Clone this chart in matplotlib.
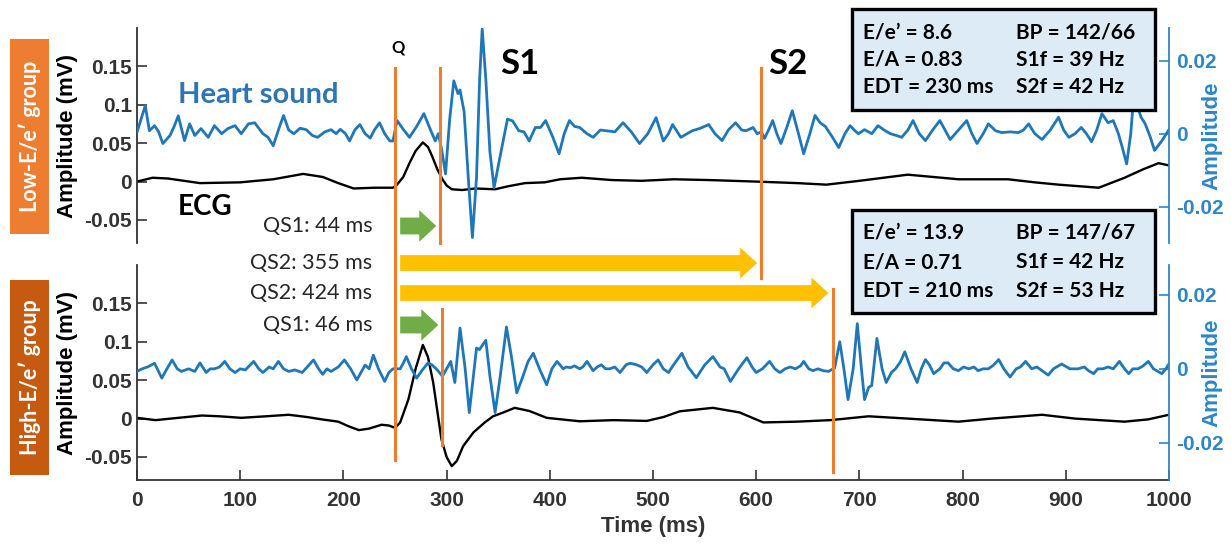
import matplotlib
matplotlib.use("Agg")
import matplotlib.pyplot as plt
from matplotlib.patches import Rectangle, FancyArrow
from matplotlib.lines import Line2D
from matplotlib.transforms import blended_transform_factory

# ---- data ----
# low-E/e' group: heart sound (right axis) and ECG (mV, left axis)
t_hs_low = [0, 4, 8, 12, 17, 21, 25, 32, 36, 40, 46, 51, 56, 62, 69, 75, 82, 88, 95, 101,
            108, 114, 122, 127, 132, 137, 142, 147, 152, 158, 164, 170, 175, 182, 188, 193,
            197, 202, 206, 211, 216, 221, 226, 230, 235, 240, 245, 248, 252, 258, 264, 271,
            278, 283, 289, 292, 295, 299, 303, 307, 311, 313, 317, 321, 325, 329, 332, 334.5,
            338, 342, 346, 352, 359, 364, 370, 375, 380, 386, 391, 396, 403, 409, 414, 419,
            424, 429, 436, 442, 449, 455, 463, 471, 479, 487, 495, 503, 510, 515, 519, 527,
            533, 538, 546, 554, 560, 567, 573, 580, 586, 590, 597, 601, 605, 608, 612, 616,
            620, 624, 630, 635, 641, 646, 652, 657, 662, 667, 674, 680, 686, 691, 695, 699,
            705, 712, 718, 724, 730, 736, 741, 747, 752, 758, 764, 771, 778, 783, 788, 796,
            804, 809, 814, 820, 825, 832, 838, 846, 854, 859, 864, 870, 877, 885, 893, 898,
            903, 909, 915, 920, 925, 930, 935, 941, 946, 951, 955, 959, 963, 966, 970, 973,
            977, 982, 986, 993, 1000]
hs_low = [0.0004, 0.004, 0.0077, 0.0008, 0.0022, 0.0005, -0.0027, -0.0005, 0.002, 0.0049,
          -0.0019, 0.0027, -0.0005, 0.0014, -0.001, 0.0022, 0.0, 0.0014, 0.0022, 0.0,
          0.0027, 0.003, 0.0, -0.001, -0.0033, 0.001, 0.005, 0.001, 0.0, 0.0015, 0.0011,
          -0.0005, -0.001, 0.0005, 0.0011, 0.0, 0.0012, 0.0, -0.002, 0.001, 0.0025, 0.0,
          -0.0012, 0.001, 0.003, 0.0, -0.002, -0.002, 0.0036, 0.0012, -0.001, 0.002,
          0.0055, 0.002, -0.002, 0.0, -0.004, -0.011, 0.004, 0.0145, 0.011, 0.012, 0.006,
          -0.012, -0.0285, -0.012, 0.015, 0.0288, 0.015, -0.005, -0.0148, -0.006, 0.004,
          0.0035, 0.0008, 0.0005, -0.002, 0.0017, 0.0017, 0.0036, -0.001, -0.0055, 0.0,
          0.0036, 0.002, 0.0017, 0.0, -0.001, 0.001, 0.0008, 0.0005, 0.003, 0.0005,
          -0.0027, 0.0, 0.0044, -0.002, 0.0, 0.0025, -0.001, 0.0, 0.0008, 0.0015, 0.0025,
          0.0, -0.0019, 0.001, 0.003, 0.001, 0.0008, 0.0017, 0.0, 0.0005, -0.0013, 0.001,
          0.0036, 0.0, -0.0027, 0.002, 0.0063, 0.0, -0.0055, 0.0, 0.005, 0.003, 0.002,
          -0.001, -0.0038, 0.0, 0.0022, 0.001, 0.0, 0.0011, 0.0, 0.0022, 0.001, 0.0,
          -0.0005, -0.001, 0.001, 0.0036, 0.0, -0.0019, 0.001, 0.0036, 0.001, -0.0016,
          0.001, 0.0036, 0.0, -0.0027, 0.0, 0.0027, 0.0008, 0.0003, 0.0005, 0.0003, 0.001,
          0.0027, 0.0, -0.0016, 0.001, 0.0045, 0.001, -0.001, 0.0, 0.0017, 0.0, -0.0022,
          0.001, 0.0055, 0.003, 0.0036, 0.0, -0.004, -0.0083, 0.0, 0.011, 0.007, 0.0045,
          0.0027, -0.001, -0.0046, -0.002, 0.0011]
t_ecg_low = [0, 15, 30, 61, 100, 132, 161, 180, 195, 210, 230, 248, 252, 258, 264, 270, 277,
             282, 286, 291, 296, 300, 305, 315, 328, 347, 360, 376, 395, 410, 431, 460, 489,
             520, 554, 600, 640, 668, 700, 747, 796, 844, 870, 893, 932, 957, 975, 990, 1000]
ecg_low = [0.0, 0.005, 0.004, -0.002, -0.001, 0.003, 0.010, 0.006, -0.002, -0.009, -0.008,
           -0.008, -0.004, 0.006, 0.024, 0.040, 0.051, 0.045, 0.033, 0.016, 0.003, -0.005,
           -0.010, -0.011, -0.009, -0.010, -0.006, -0.002, -0.001, 0.003, 0.005, 0.002,
           0.001, 0.003, 0.002, 0.0, -0.002, -0.004, 0.001, 0.009, 0.003, 0.003, -0.001,
           -0.004, -0.008, 0.005, 0.016, 0.024, 0.021]

# high-E/e' group
t_hs_high = [0, 5, 11, 17, 24, 29, 34, 39, 43, 50, 56, 61, 67, 71, 75, 80, 85, 90, 95, 100,
             105, 113, 118, 122, 128, 132, 137, 142, 147, 153, 160, 165, 171, 176, 180, 184,
             188, 195, 201, 207, 213, 217, 221, 225, 229, 234, 240, 244, 248, 255, 258, 261,
             266, 271, 276, 282, 286, 290, 296, 300, 304, 308, 313, 318, 322, 326, 329, 332,
             335, 338, 342, 347, 352, 358, 363, 368, 374, 379, 384, 390, 397, 402, 407, 413,
             416, 420, 424, 429, 432, 436, 442, 446, 450, 454, 458, 463, 468, 474, 478, 484,
             489, 494, 500, 505, 510, 515, 520, 528, 534, 542, 550, 558, 565, 569, 575, 583,
             591, 596, 600, 606, 613, 618, 623, 628, 633, 638, 643, 646, 651, 655, 660, 665,
             670, 676, 681, 685, 689, 694, 698, 702, 705, 709, 712, 717, 722, 726, 731, 735,
             740, 744, 750, 756, 760, 764, 768, 772, 778, 782, 786, 791, 796, 801, 806, 811,
             815, 820, 825, 830, 835, 840, 846, 852, 856, 861, 867, 872, 877, 883, 888, 896,
             904, 912, 918, 922, 927, 931, 936, 941, 946, 952, 957, 961, 965, 970, 975, 980,
             985, 990, 993, 997, 1000]
hs_high = [-0.0007, 0.0, 0.0006, 0.0015, -0.0025, 0.0, 0.0024, 0.0, -0.0007, 0.0, -0.0007,
           0.0016, -0.001, 0.0, 0.0, 0.0005, 0.002, 0.0, -0.001, 0.0, -0.0003, 0.002, 0.0,
           -0.001, 0.0005, 0.0, 0.002, 0.0, -0.0007, -0.0003, -0.001, 0.0005, 0.0024, 0.0,
           -0.0015, 0.0, -0.0007, 0.0005, 0.0024, 0.0, -0.003, -0.001, 0.001, 0.0, 0.0037,
           0.0, -0.0034, -0.001, 0.0, 0.0, 0.0015, 0.0033, 0.0, -0.0025, -0.0005, 0.0016,
           0.001, 0.0, -0.002, 0.0, 0.002, -0.0037, 0.011, 0.0, -0.0118, -0.002, 0.0056,
           0.0052, 0.0065, 0.0077, -0.002, -0.0118, -0.002, 0.0113, 0.003, -0.0065, -0.002,
           0.002, 0.0042, 0.0, -0.0043, 0.0, 0.002, 0.0, 0.0005, 0.0003, 0.0008, 0.0, 0.0005,
           0.002, -0.0005, 0.0005, 0.0011, 0.0, 0.0, 0.0005, -0.001, 0.0011, 0.0015, 0.0011,
           0.0005, -0.001, 0.0011, 0.0024, 0.0, -0.001, 0.0011, 0.0042, 0.0005, -0.0024,
           0.001, 0.0033, 0.0005, 0.0, -0.0034, 0.0, 0.003, 0.0005, -0.001, 0.0, 0.002, 0.0,
           -0.001, 0.0, 0.0005, 0.0, 0.0008, 0.002, 0.0, -0.0005, 0.0, -0.0005, -0.0007,
           0.0002, 0.0073, 0.0, -0.0083, 0.0, 0.0122, 0.0, -0.0083, -0.005, -0.0045, 0.0082,
           0.0, -0.0037, -0.001, 0.0, 0.002, 0.0046, 0.0, -0.0037, 0.0, 0.0025, 0.001,
           -0.0013, 0.0, 0.0016, 0.0016, 0.0, -0.0005, 0.0005, 0.0, 0.0005, -0.0005, 0.0,
           0.0, 0.001, 0.0025, 0.0, -0.0022, 0.0, 0.0005, 0.002, 0.0, 0.0005, -0.0005,
           -0.0017, 0.0, 0.0013, 0.0, 0.0, 0.0005, -0.0005, -0.0013, 0.0, 0.0, 0.0005, 0.0,
           0.002, 0.0, -0.0013, 0.0, 0.0, 0.0008, 0.002, 0.0, -0.0008, -0.0013, 0.0, 0.0013]
t_ecg_high = [0, 18, 40, 63, 80, 101, 125, 147, 165, 179, 195, 205, 215, 225, 237, 244, 250,
              255, 263, 270, 277, 282, 287, 291, 295, 300, 305, 310, 316, 326, 337, 345, 355,
              366, 380, 397, 429, 462, 494, 510, 526, 558, 584, 598, 607, 639, 672, 709, 747,
              796, 828, 877, 909, 957, 980, 1000]
ecg_high = [0.001, -0.002, 0.001, 0.004, 0.003, 0.001, 0.003, 0.005, 0.002, -0.001, -0.004,
            -0.010, -0.015, -0.013, -0.008, -0.009, -0.012, -0.005, 0.025, 0.065, 0.096,
            0.080, 0.047, 0.010, -0.027, -0.050, -0.062, -0.055, -0.036, -0.018, -0.005,
            0.003, 0.008, 0.014, 0.010, 0.001, -0.0035, -0.002, -0.003, 0.002, 0.0095, 0.014,
            0.008, 0.0, -0.005, -0.004, -0.002, 0.003, 0.0, -0.004, 0.0, 0.005, 0.0, -0.004,
            -0.001, 0.005]

q_time = 250
qs1 = [44, 46]     # low, high
qs2 = [355, 424]   # low, high

info_low = [("E/e\u2019 = 8.6", "BP = 142/66"), ("E/A = 0.83", "S1f = 39 Hz"),
            ("EDT = 230 ms", "S2f = 42 Hz")]
info_high = [("E/e\u2019 = 13.9", "BP = 147/67"), ("E/A = 0.71", "S1f = 42 Hz"),
             ("EDT = 210 ms", "S2f = 53 Hz")]

xticks = list(range(0, 1001, 100))
ecg_ticks = [-0.05, 0, 0.05, 0.1, 0.15]
ecg_ticklabels = ["-0.05", "0", "0.05", "0.1", "0.15"]
hs_ticks = [-0.02, 0, 0.02]
hs_ticklabels = ["-0.02", "0", "0.02"]

# ---- style ----
BLUE = "#1f77b8"
AXBLUE = "#2E86C8"
DARK = "#333333"
ORANGE = "#ED7D31"
GREEN = "#70AD47"
YELLOW = "#FFC000"
CAL = "Lato"
ARIAL = "Liberation Sans"

plt.rcParams["font.family"] = [ARIAL, "DejaVu Sans"]

fig = plt.figure(figsize=(12.31, 5.44), dpi=100)
ax_low = fig.add_axes([0.1113, 0.5533, 0.8383, 0.3952])
ax_high = fig.add_axes([0.1113, 0.1176, 0.8383, 0.3952])


def setup(ax, hs_lim, show_x):
    ax.set_xlim(0, 1000)
    ax.set_ylim(-0.08, 0.2)
    ax.set_yticks(ecg_ticks)
    ax.set_yticklabels(ecg_ticklabels)
    ax.spines["top"].set_visible(False)
    ax.spines["right"].set_visible(False)
    ax.spines["left"].set_color(DARK)
    ax.spines["left"].set_linewidth(1.3)
    ax.tick_params(direction="in", length=7, width=1.2, colors=DARK, labelsize=15)
    for lab in ax.get_yticklabels():
        lab.set_fontweight("bold")
    if show_x:
        ax.set_xticks(xticks)
        ax.set_xticklabels([str(v) for v in xticks], fontweight="bold")
        ax.spines["bottom"].set_color(DARK)
        ax.spines["bottom"].set_linewidth(1.3)
        ax.tick_params(axis="x", pad=8)
    else:
        ax.spines["bottom"].set_visible(False)
        ax.set_xticks([])
    ax.set_ylabel("Amplitude (mV)", fontsize=16, fontweight="bold", color="black")
    ax.yaxis.set_label_coords(-0.0669, 0.5)
    ax.yaxis.label.set_va("center")
    tw = ax.twinx()
    tw.set_ylim(*hs_lim)
    tw.set_yticks(hs_ticks)
    tw.set_yticklabels(hs_ticklabels, fontweight="bold")
    for s in ["top", "left", "bottom"]:
        tw.spines[s].set_visible(False)
    tw.spines["right"].set_color(AXBLUE)
    tw.spines["right"].set_linewidth(1.3)
    tw.tick_params(direction="in", length=7, width=1.2, colors=AXBLUE, labelsize=15, pad=5)
    tw.set_ylabel("Amplitude", fontsize=16, fontweight="bold", color=AXBLUE)
    tw.yaxis.set_label_coords(1.0417, 0.5)
    tw.yaxis.label.set_va("center")
    return tw


tw_low = setup(ax_low, (-0.03, 0.029), False)
tw_high = setup(ax_high, (-0.03, 0.028), True)
ax_high.set_xlabel("Time (ms)", fontsize=16, fontweight="bold", color=DARK, labelpad=4)

ax_low.plot(t_ecg_low, ecg_low, color="black", lw=1.7, solid_joinstyle="round")
tw_low.plot(t_hs_low, hs_low, color=BLUE, lw=2.0, solid_joinstyle="round")
ax_high.plot(t_ecg_high, ecg_high, color="black", lw=1.7, solid_joinstyle="round")
tw_high.plot(t_hs_high, hs_high, color=BLUE, lw=2.0, solid_joinstyle="round")

# group labels on the left
for y0, col, txt in [(0.5699, "#ED7D31", "Low-E/e\u2032 group"),
                     (0.1268, "#C55A11", "High-E/e\u2032 group")]:
    fig.add_artist(Rectangle((0.0081, y0), 0.0317, 0.3585, transform=fig.transFigure,
                             facecolor=col, edgecolor="none"))
    fig.text(0.0081 + 0.0317 / 2, y0 + 0.3585 / 2, txt, rotation=90, ha="center",
             va="center", color="white", fontsize=15.5, fontweight="bold", family=CAL)

# Q, S1, S2 marker lines (x from data, y span in figure units)
trans = blended_transform_factory(ax_low.transData, fig.transFigure)
marks = [(q_time, 0.875, 0.1544),
         (q_time + qs1[0], 0.875, 0.5533),
         (q_time + qs2[0], 0.875, 0.489),
         (q_time + qs1[1], 0.432, 0.182),
         (q_time + qs2[1], 0.469, 0.132)]
for xm, ya, yb in marks:
    fig.add_artist(Line2D([xm, xm], [ya, yb], transform=trans, color=ORANGE, lw=2.2))

# arrows with labels
arrow_start = q_time + 5
rows = [(qs1[0], 0.5846, GREEN, "QS1: %d ms" % qs1[0], 0.031, 0.058),
        (qs2[0], 0.5165, YELLOW, "QS2: %d ms" % qs2[0], 0.029, 0.057),
        (qs2[1], 0.4614, YELLOW, "QS2: %d ms" % qs2[1], 0.029, 0.057),
        (qs1[1], 0.4026, GREEN, "QS1: %d ms" % qs1[1], 0.031, 0.058)]
for qs, yc, col, lab, w, hw in rows:
    tip = q_time + qs - 4
    fig.add_artist(FancyArrow(arrow_start, yc, tip - arrow_start, 0, width=w, head_width=hw,
                              head_length=16.5, length_includes_head=True, transform=trans,
                              color=col, lw=0))
    fig.text(228, yc, lab, transform=trans, ha="right", va="center", fontsize=15.5,
             family=CAL, color="#262626")

# text annotations
fig.text(253, 0.913, "Q", transform=trans, ha="center", va="center", fontsize=12,
         fontweight="bold", family=CAL)
fig.text(352, 0.882, "S1", transform=trans, ha="left", va="center", fontsize=25,
         fontweight="bold", family=CAL)
fig.text(612, 0.882, "S2", transform=trans, ha="left", va="center", fontsize=25,
         fontweight="bold", family=CAL)
fig.text(0.1446, 0.826, "Heart sound", ha="left", va="center", fontsize=21,
         fontweight="bold", family=CAL, color="#2E75B6")
fig.text(0.1446, 0.619, "ECG", ha="left", va="center", fontsize=20,
         fontweight="bold", family=CAL, color="black")

# parameter boxes
for y0, h, info, ys in [(0.7978, 0.1857, info_low, [0.941, 0.890, 0.840]),
                        (0.4246, 0.1893, info_high, [0.5717, 0.518, 0.465])]:
    fig.add_artist(Rectangle((0.6921, y0), 0.2461, h, transform=fig.transFigure,
                             facecolor="#DDEBF7", edgecolor="black", lw=2.4))
    for (c1, c2), yy in zip(info, ys):
        fig.text(0.701, yy, c1, ha="left", va="center", fontsize=15, fontweight="bold",
                 family=CAL)
        fig.text(0.8253, yy, c2, ha="left", va="center", fontsize=15, fontweight="bold",
                 family=CAL)

fig.savefig("out.png", dpi=100)
